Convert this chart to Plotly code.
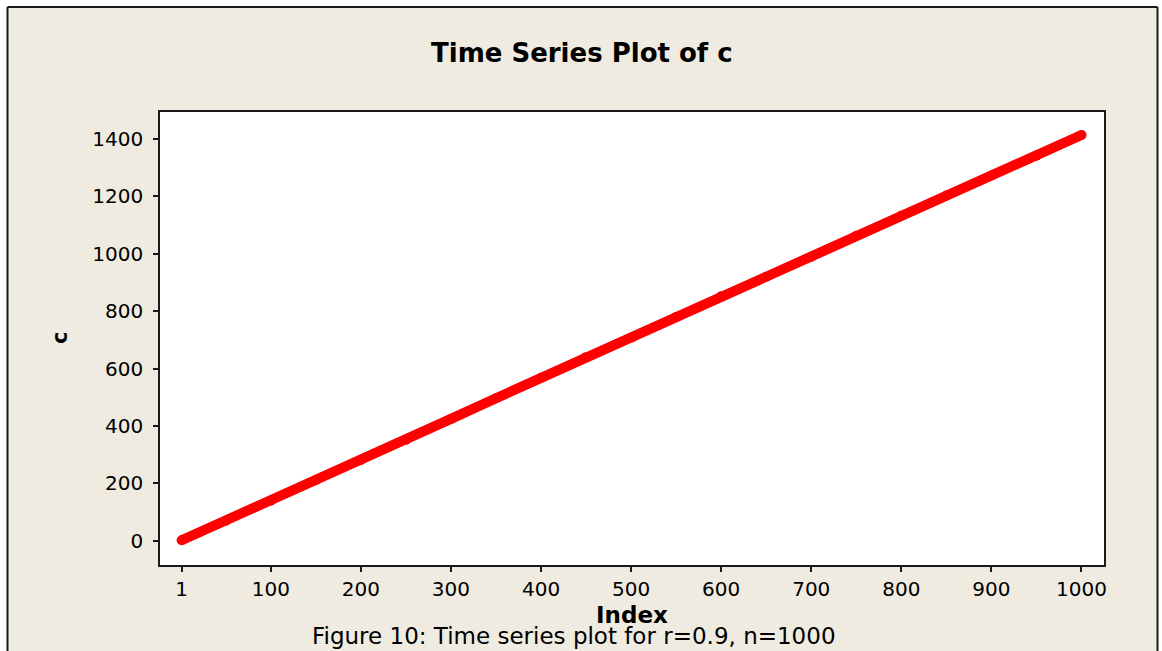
import plotly.graph_objects as go

# Data (index -> value)
index_vals = [1, 50, 100, 150, 200, 250, 300, 350, 400, 450, 500,
              550, 600, 650, 700, 750, 800, 850, 900, 950, 1000]
c_vals = [2, 70, 140, 211, 282, 352, 425, 497, 568, 640, 708,
          780, 852, 920, 990, 1063, 1133, 1203, 1273, 1342, 1414]

x_ticks = [1, 100, 200, 300, 400, 500, 600, 700, 800, 900, 1000]
x_tick_text = [str(v) for v in x_ticks]
y_ticks = [0, 200, 400, 600, 800, 1000, 1200, 1400]

W, H = 1162, 651
L, R, T, B = 160, 1104, 112, 565  # plot-area pixel box
PW, PH = R - L, B - T

def px(x):
    return (x - L) / PW

def py(y):
    return (B - y) / PH

BEIGE = "#EFEBE1"
FONT = "DejaVu Sans"

fig = go.Figure()
fig.add_trace(go.Scatter(
    x=index_vals, y=c_vals, mode="lines+markers",
    line=dict(color="#FF0000", width=10),
    marker=dict(color="#FF0000", size=10),
    showlegend=False, hoverinfo="skip"))

shapes = [
    dict(type="rect", xref="paper", yref="paper", x0=px(0), x1=px(W), y0=py(6.5), y1=py(0),
         fillcolor="white", line=dict(width=0), layer="above"),
    dict(type="rect", xref="paper", yref="paper", x0=px(0), x1=px(7.5), y0=py(H), y1=py(0),
         fillcolor="white", line=dict(width=0), layer="above"),
    dict(type="rect", xref="paper", yref="paper", x0=px(1157.5), x1=px(W), y0=py(H), y1=py(0),
         fillcolor="white", line=dict(width=0), layer="above"),
    dict(type="line", xref="paper", yref="paper", x0=px(7.5), x1=px(1157.5), y0=py(7), y1=py(7),
         line=dict(color="#1a1a1a", width=2), layer="above"),
    dict(type="line", xref="paper", yref="paper", x0=px(7.5), x1=px(7.5), y0=py(7), y1=py(H),
         line=dict(color="#1a1a1a", width=2), layer="above"),
    dict(type="line", xref="paper", yref="paper", x0=px(1157.5), x1=px(1157.5), y0=py(7), y1=py(H),
         line=dict(color="#1a1a1a", width=2), layer="above"),
]

annotations = [
    dict(text="<b>Time Series Plot of c</b>", x=px(582), y=py(53), xref="paper", yref="paper",
         showarrow=False, xanchor="center", yanchor="middle",
         font=dict(family=FONT, size=26, color="black")),
    dict(text="<b>c</b>", x=px(60), y=py(338), xref="paper", yref="paper",
         showarrow=False, xanchor="center", yanchor="middle", textangle=-90,
         font=dict(family=FONT, size=21, color="black")),
    dict(text="<b>Index</b>", x=px(632), y=py(615), xref="paper", yref="paper",
         showarrow=False, xanchor="center", yanchor="middle",
         font=dict(family=FONT, size=23, color="black")),
    dict(text="Figure 10: Time series plot for r=0.9, n=1000", x=px(574), y=py(636),
         xref="paper", yref="paper", showarrow=False, xanchor="center", yanchor="middle",
         font=dict(family=FONT, size=23, color="black")),
]

fig.update_layout(
    width=W, height=H,
    margin=dict(l=L, r=W - R, t=T, b=H - B, pad=0),
    paper_bgcolor=BEIGE, plot_bgcolor="white",
    shapes=shapes, annotations=annotations,
    xaxis=dict(range=[-23, 1025], tickmode="array", tickvals=x_ticks, ticktext=x_tick_text,
               showgrid=False, zeroline=False, showline=True, mirror=True,
               linecolor="#1a1a1a", linewidth=1.5, ticks="outside", ticklen=5,
               tickwidth=1.5, tickcolor="#1a1a1a",
               tickfont=dict(family=FONT, size=20, color="black")),
    yaxis=dict(range=[-84, 1494], tickmode="array", tickvals=y_ticks,
               showgrid=False, zeroline=False, showline=True, mirror=True,
               linecolor="#1a1a1a", linewidth=1.5, ticks="outside", ticklen=5,
               tickwidth=1.5, tickcolor="#1a1a1a", ticklabelstandoff=6,
               tickfont=dict(family=FONT, size=20, color="black")),
)

fig.write_html("out.html", config={"displayModeBar": False},
               post_script="document.body.style.margin='0';document.body.style.overflow='hidden';")
